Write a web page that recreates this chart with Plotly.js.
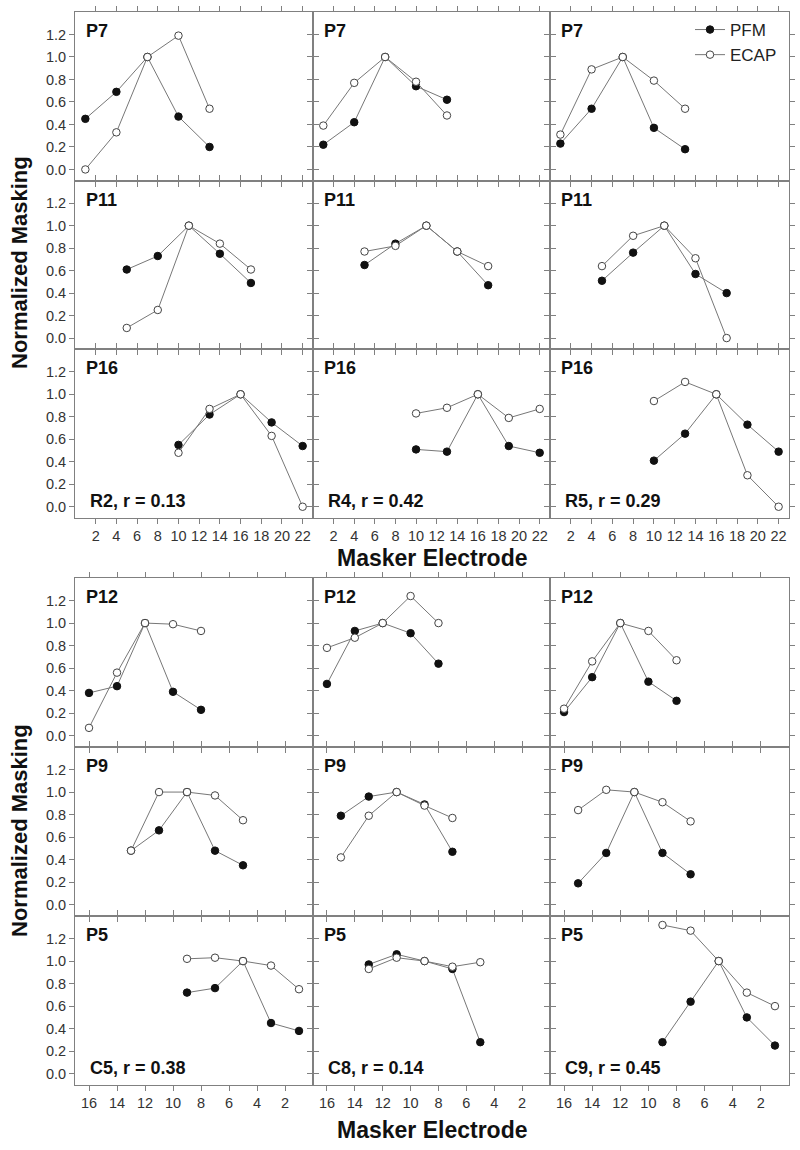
<!DOCTYPE html>
<html>
<head>
<meta charset="utf-8">
<script src="https://cdn.plot.ly/plotly-3.0.1.min.js"></script>
<style>html,body{margin:0;padding:0;background:#fff}#chart{width:800px;height:1150px}</style>
</head>
<body>
<div id="chart"></div>
<script>
// ---------- data ----------
const topTickVals = [2, 4, 6, 8, 10, 12, 14, 16, 18, 20, 22];
const bottomTickVals = [16, 14, 12, 10, 8, 6, 4, 2];
const yTickVals = [0, 0.2, 0.4, 0.6, 0.8, 1.0, 1.2];
const yTickText = ['0.0', '0.2', '0.4', '0.6', '0.8', '1.0', '1.2'];

const topConditions = ['R2, r = 0.13', 'R4, r = 0.42', 'R5, r = 0.29'];
const bottomConditions = ['C5, r = 0.38', 'C8, r = 0.14', 'C9, r = 0.45'];

// P7 (top block, row 1)
const elecP7 = [1, 4, 7, 10, 13];
const p7R2Pfm = [0.45, 0.69, 1.0, 0.47, 0.20];
const p7R2Ecap = [0.00, 0.33, 1.0, 1.19, 0.54];
const p7R4Pfm = [0.22, 0.42, 1.0, 0.74, 0.62];
const p7R4Ecap = [0.39, 0.77, 1.0, 0.78, 0.48];
const p7R5Pfm = [0.23, 0.54, 1.0, 0.37, 0.18];
const p7R5Ecap = [0.31, 0.89, 1.0, 0.79, 0.54];

// P11 (top block, row 2)
const elecP11 = [5, 8, 11, 14, 17];
const p11R2Pfm = [0.61, 0.73, 1.0, 0.75, 0.49];
const p11R2Ecap = [0.09, 0.25, 1.0, 0.84, 0.61];
const p11R4Pfm = [0.65, 0.84, 1.0, 0.77, 0.47];
const p11R4Ecap = [0.77, 0.82, 1.0, 0.77, 0.64];
const p11R5Pfm = [0.51, 0.76, 1.0, 0.57, 0.40];
const p11R5Ecap = [0.64, 0.91, 1.0, 0.71, 0.00];

// P16 (top block, row 3)
const elecP16 = [10, 13, 16, 19, 22];
const p16R2Pfm = [0.55, 0.82, 1.0, 0.75, 0.54];
const p16R2Ecap = [0.48, 0.87, 1.0, 0.63, 0.00];
const p16R4Pfm = [0.51, 0.49, 1.0, 0.54, 0.48];
const p16R4Ecap = [0.83, 0.88, 1.0, 0.79, 0.87];
const p16R5Pfm = [0.41, 0.65, 1.0, 0.73, 0.49];
const p16R5Ecap = [0.94, 1.11, 1.0, 0.28, 0.00];

// P12 (bottom block, row 1)
const elecP12 = [16, 14, 12, 10, 8];
const p12C5Pfm = [0.38, 0.44, 1.0, 0.39, 0.23];
const p12C5Ecap = [0.07, 0.56, 1.0, 0.99, 0.93];
const p12C8Pfm = [0.46, 0.93, 1.0, 0.91, 0.64];
const p12C8Ecap = [0.78, 0.87, 1.0, 1.24, 1.00];
const p12C9Pfm = [0.21, 0.52, 1.0, 0.48, 0.31];
const p12C9Ecap = [0.24, 0.66, 1.0, 0.93, 0.67];

// P9 (bottom block, row 2)
const elecP9C5 = [13, 11, 9, 7, 5];
const elecP9C8 = [15, 13, 11, 9, 7];
const elecP9C9 = [15, 13, 11, 9, 7];
const p9C5Pfm = [0.48, 0.66, 1.0, 0.48, 0.35];
const p9C5Ecap = [0.48, 1.00, 1.0, 0.97, 0.75];
const p9C8Pfm = [0.79, 0.96, 1.0, 0.89, 0.47];
const p9C8Ecap = [0.42, 0.79, 1.0, 0.88, 0.77];
const p9C9Pfm = [0.19, 0.46, 1.0, 0.46, 0.27];
const p9C9Ecap = [0.84, 1.02, 1.0, 0.91, 0.74];

// P5 (bottom block, row 3)
const elecP5C5 = [9, 7, 5, 3, 1];
const elecP5C8 = [13, 11, 9, 7, 5];
const elecP5C9 = [9, 7, 5, 3, 1];
const p5C5Pfm = [0.72, 0.76, 1.0, 0.45, 0.38];
const p5C5Ecap = [1.02, 1.03, 1.0, 0.96, 0.75];
const p5C8Pfm = [0.97, 1.06, 1.0, 0.93, 0.28];
const p5C8Ecap = [0.93, 1.03, 1.0, 0.95, 0.99];
const p5C9Pfm = [0.28, 0.64, 1.0, 0.50, 0.25];
const p5C9Ecap = [1.32, 1.27, 1.0, 0.72, 0.60];

// panels: [row][col]
const panels = [
  {label: 'P7', cols: [[elecP7, p7R2Pfm, p7R2Ecap], [elecP7, p7R4Pfm, p7R4Ecap], [elecP7, p7R5Pfm, p7R5Ecap]]},
  {label: 'P11', cols: [[elecP11, p11R2Pfm, p11R2Ecap], [elecP11, p11R4Pfm, p11R4Ecap], [elecP11, p11R5Pfm, p11R5Ecap]]},
  {label: 'P16', cols: [[elecP16, p16R2Pfm, p16R2Ecap], [elecP16, p16R4Pfm, p16R4Ecap], [elecP16, p16R5Pfm, p16R5Ecap]]},
  {label: 'P12', cols: [[elecP12, p12C5Pfm, p12C5Ecap], [elecP12, p12C8Pfm, p12C8Ecap], [elecP12, p12C9Pfm, p12C9Ecap]]},
  {label: 'P9', cols: [[elecP9C5, p9C5Pfm, p9C5Ecap], [elecP9C8, p9C8Pfm, p9C8Ecap], [elecP9C9, p9C9Pfm, p9C9Ecap]]},
  {label: 'P5', cols: [[elecP5C5, p5C5Pfm, p5C5Ecap], [elecP5C8, p5C8Pfm, p5C8Ecap], [elecP5C9, p5C9Pfm, p5C9Ecap]]}
];

// ---------- layout geometry (pixels) ----------
const W = 800, H = 1150;
const colPx = [[75, 313], [313, 550], [550, 789]];
const rowPx = [[12, 180.7], [180.7, 349.3], [349.3, 518], [578, 747], [747, 916], [916, 1085]];
const FONT = 'Liberation Sans, Arial, sans-serif';
const AX = '#808080';
const LINE = '#777777';

const traces = [];
const layout = {
  width: W, height: H,
  margin: {l: 0, r: 0, t: 0, b: 0},
  paper_bgcolor: '#fff', plot_bgcolor: '#fff',
  font: {family: FONT, color: '#222', size: 14},
  showlegend: true,
  legend: {x: 690 / W, y: 1 - 12 / H, xanchor: 'left', yanchor: 'top',
           bgcolor: 'rgba(0,0,0,0)', font: {family: FONT, size: 17, color: '#222'},
           tracegroupgap: 0},
  annotations: []
};

let k = 0;
for (let r = 0; r < 6; r++) {
  const isTop = r < 3;
  for (let c = 0; c < 3; c++) {
    k++;
    const xa = 'xaxis' + (k === 1 ? '' : k), ya = 'yaxis' + (k === 1 ? '' : k);
    const xr = 'x' + (k === 1 ? '' : k), yr = 'y' + (k === 1 ? '' : k);
    const [x0, x1] = colPx[c];
    const [t0, t1] = rowPx[r];
    layout[xa] = {
      domain: [x0 / W, x1 / W], anchor: yr,
      range: isTop ? [0, 23] : [17, 0],
      tickmode: 'array', tickvals: isTop ? topTickVals : bottomTickVals,
      showticklabels: (r === 2 || r === 5),
      ticks: 'outside', ticklen: 5, tickcolor: AX, tickwidth: 1,
      showline: true, linecolor: AX, linewidth: 1, mirror: 'ticks',
      showgrid: false, zeroline: false,
      tickfont: {family: FONT, size: 14.5, color: '#333'}
    };
    layout[ya] = {
      domain: [1 - t1 / H, 1 - t0 / H], anchor: xr,
      range: [-0.1, 1.4],
      tickmode: 'array', tickvals: yTickVals, ticktext: yTickText,
      showticklabels: c === 0,
      ticks: 'outside', ticklen: 5, tickcolor: AX, tickwidth: 1,
      showline: true, linecolor: AX, linewidth: 1, mirror: 'ticks',
      showgrid: false, zeroline: false,
      tickfont: {family: FONT, size: 14.5, color: '#333'}
    };
    const [ex, pfm, ecap] = panels[r].cols[c];
    traces.push({
      type: 'scatter', mode: 'lines+markers', x: ex, y: pfm, xaxis: xr, yaxis: yr,
      name: 'PFM', showlegend: k === 1, legendgroup: 'pfm',
      line: {color: LINE, width: 1},
      marker: {symbol: 'circle', size: 7.5, color: '#111', line: {color: '#111', width: 1}}
    });
    traces.push({
      type: 'scatter', mode: 'lines+markers', x: ex, y: ecap, xaxis: xr, yaxis: yr,
      name: 'ECAP', showlegend: k === 1, legendgroup: 'ecap',
      line: {color: LINE, width: 1},
      marker: {symbol: 'circle', size: 7.5, color: '#fff', line: {color: '#444', width: 1}}
    });
    // panel label
    layout.annotations.push({
      xref: 'paper', yref: 'paper', x: (x0 + 9) / W, y: 1 - (t0 + 19) / H,
      xanchor: 'left', yanchor: 'middle', showarrow: false,
      text: '<b>' + panels[r].label + '</b>', font: {family: FONT, size: 18, color: '#111'}
    });
    if (r === 2 || r === 5) {
      const cond = (r === 2 ? topConditions : bottomConditions)[c];
      layout.annotations.push({
        xref: 'paper', yref: 'paper', x: (x0 + 13) / W, y: 1 - (t1 - 17) / H,
        xanchor: 'left', yanchor: 'middle', showarrow: false,
        text: '<b>' + cond + '</b>', font: {family: FONT, size: 18, color: '#111'}
      });
    }
  }
}

// axis titles
[[263, 558], [831, 1130]].forEach(([ym, xt]) => {
  layout.annotations.push({
    xref: 'paper', yref: 'paper', x: 19 / W, y: 1 - ym / H,
    xanchor: 'center', yanchor: 'middle', showarrow: false, textangle: -90,
    text: '<b>Normalized Masking</b>', font: {family: FONT, size: 22, color: '#111'}
  });
  layout.annotations.push({
    xref: 'paper', yref: 'paper', x: 432 / W, y: 1 - xt / H,
    xanchor: 'center', yanchor: 'middle', showarrow: false,
    text: '<b>Masker Electrode</b>', font: {family: FONT, size: 23, color: '#111'}
  });
});

Plotly.newPlot('chart', traces, layout, {staticPlot: true, displayModeBar: false});
</script>
</body>
</html>
